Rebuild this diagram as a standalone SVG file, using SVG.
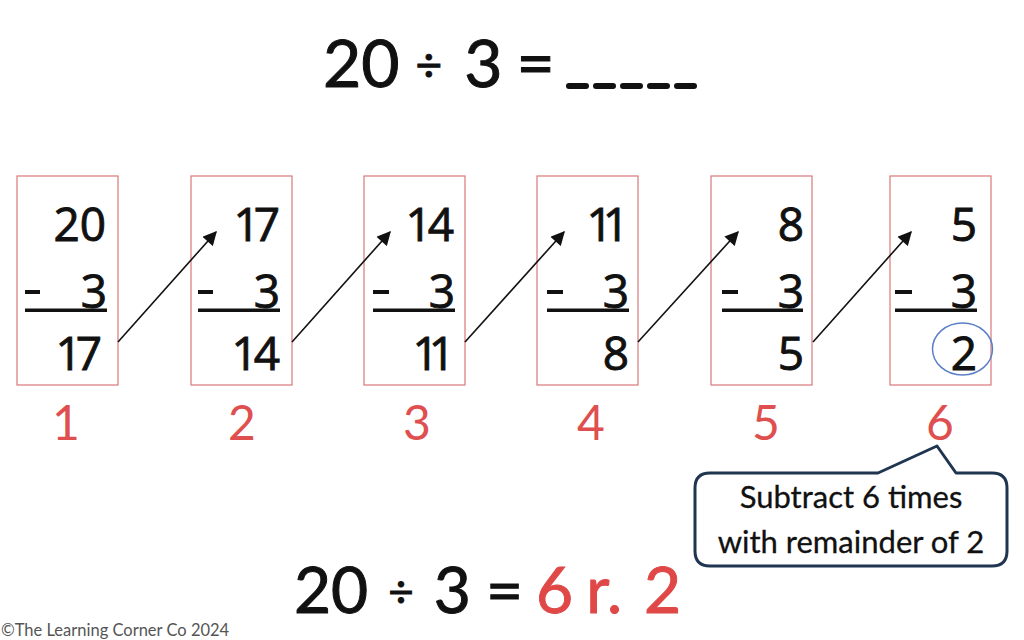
<svg xmlns="http://www.w3.org/2000/svg" width="1024" height="640" viewBox="0 0 1024 640">
<defs>
<style>
.box{fill:none;stroke:#d9777a;stroke-width:1.2}
.num{font-family:"Open Sans",Lato,sans-serif;font-size:46px;fill:#111;text-anchor:end;stroke:#111;stroke-width:0.9}
.lbl{font-family:Lato,"Open Sans",sans-serif;font-size:48px;fill:#e04f4f;text-anchor:middle}
.bar{fill:#111}
.arr{stroke:#111;stroke-width:1.6;fill:none;marker-end:url(#ah)}
.big{font-family:Lato,"Open Sans",sans-serif;font-size:66px;fill:#111;stroke:#111;stroke-width:1}
.call{font-family:Lato,"Open Sans",sans-serif;font-size:31px;fill:#111;text-anchor:middle;stroke:#111;stroke-width:0.3}
.red{fill:#e04848;stroke:#e04848}
</style>
<marker id="ah" viewBox="0 0 10 10" refX="9" refY="5" markerWidth="16" markerHeight="14" markerUnits="userSpaceOnUse" orient="auto">
<path d="M0,0 L10,5 L0,10 z" fill="#111"/>
</marker>
</defs>
<rect width="1024" height="640" fill="#fff"/>

<g id="title">
<text class="big" x="323" y="87">20<tspan dx="16" dy="-6" style="font-size:46px">÷</tspan><tspan dx="22" dy="6">3</tspan><tspan dx="14">=</tspan></text>
<g fill="#111"><rect x="566" y="83" width="23" height="6" rx="3"/><rect x="593" y="83" width="23" height="6" rx="3"/><rect x="620" y="83" width="23" height="6" rx="3"/><rect x="647" y="83" width="23" height="6" rx="3"/><rect x="674" y="83" width="23" height="6" rx="3"/></g>
</g>

<g id="step1">
<rect class="box" x="17" y="176" width="101" height="209"/>
<text class="num" x="106" y="241">20</text>
<rect class="bar" x="25" y="290" width="15" height="4"/>
<text class="num" x="107" y="308">3</text>
<rect class="bar" x="25" y="308.5" width="82" height="3.5"/>
<text class="num" x="96" y="370" letter-spacing="-6">17</text>
<text class="lbl" x="66" y="440">1</text>
</g>
<g id="step2">
<rect class="box" x="191" y="176" width="101" height="209"/>
<text class="num" x="274" y="241" letter-spacing="-6">17</text>
<rect class="bar" x="198" y="290" width="15" height="4"/>
<text class="num" x="280" y="308">3</text>
<rect class="bar" x="198" y="308.5" width="82" height="3.5"/>
<text class="num" x="276" y="370" letter-spacing="-4">14</text>
<text class="lbl" x="242" y="440">2</text>
</g>
<g id="step3">
<rect class="box" x="364" y="176" width="101" height="209"/>
<text class="num" x="450" y="241" letter-spacing="-4">14</text>
<rect class="bar" x="373" y="290" width="16" height="4"/>
<text class="num" x="455" y="308">3</text>
<rect class="bar" x="373" y="308.5" width="82" height="3.5"/>
<text class="num" x="445" y="370" letter-spacing="-10">11</text>
<text class="lbl" x="417" y="440">3</text>
</g>
<g id="step4">
<rect class="box" x="537" y="176" width="101" height="209"/>
<text class="num" x="619" y="241" letter-spacing="-10">11</text>
<rect class="bar" x="547" y="290" width="16" height="4"/>
<text class="num" x="629" y="308">3</text>
<rect class="bar" x="547" y="308.5" width="82" height="3.5"/>
<text class="num" x="629" y="370">8</text>
<text class="lbl" x="591" y="440">4</text>
</g>
<g id="step5">
<rect class="box" x="711" y="176" width="101" height="209"/>
<text class="num" x="804" y="241">8</text>
<rect class="bar" x="722" y="290" width="16" height="4"/>
<text class="num" x="804" y="308">3</text>
<rect class="bar" x="722" y="308.5" width="81" height="3.5"/>
<text class="num" x="804" y="370">5</text>
<text class="lbl" x="766" y="440">5</text>
</g>
<g id="step6">
<rect class="box" x="890" y="176" width="101" height="209"/>
<text class="num" x="977" y="241">5</text>
<rect class="bar" x="895" y="290" width="17" height="4"/>
<text class="num" x="977" y="308">3</text>
<rect class="bar" x="895" y="308.5" width="82" height="3.5"/>
<text class="num" x="977" y="370">2</text>
<ellipse cx="962.5" cy="349" rx="30" ry="26" fill="none" stroke="#5b7fc7" stroke-width="1.5"/>
<text class="lbl" x="940" y="440">6</text>
</g>

<g id="connectors">
<line class="arr" x1="118" y1="342" x2="216" y2="232"/>
<line class="arr" x1="292" y1="342" x2="390" y2="232"/>
<line class="arr" x1="465" y1="342" x2="564" y2="232"/>
<line class="arr" x1="638" y1="342" x2="738" y2="232"/>
<line class="arr" x1="813" y1="342" x2="911" y2="232"/>
</g>

<g id="callout">
<path d="M710,473 L878,473 L937,446 L956,473 L992,473 Q1007,473 1007,488 L1007,551 Q1007,566 992,566 L710,566 Q695,566 695,551 L695,488 Q695,473 710,473 Z" fill="#fff" stroke="#1f3550" stroke-width="3" stroke-linejoin="round"/>
<text class="call" x="851" y="508">Subtract 6 times</text>
<text class="call" x="851" y="553">with remainder of 2</text>
</g>

<g id="answer">
<text class="big" x="294" y="613" style="font-size:64px">20<tspan dx="20" dy="-6" style="font-size:44px">÷</tspan><tspan dx="20" dy="6">3</tspan><tspan dx="15">=</tspan><tspan class="red" dx="13">6</tspan><tspan class="red" dx="13">r.</tspan><tspan class="red" dx="22">2</tspan></text>
</g>

<text x="1" y="636" font-family="Lato,'Open Sans',sans-serif" font-size="16.5" fill="#555">©The Learning Corner Co 2024</text>
</svg>
